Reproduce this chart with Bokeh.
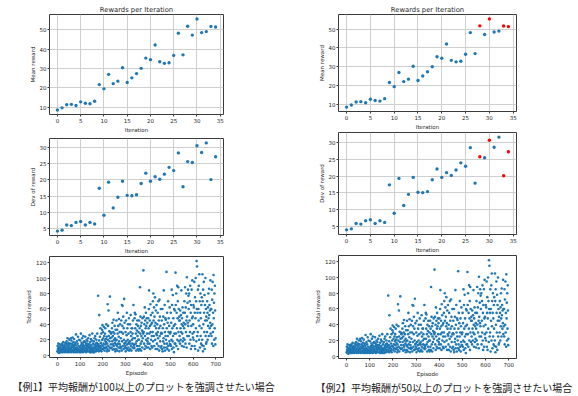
import numpy as np
from bokeh.plotting import figure
from bokeh.layouts import row, column
from bokeh.models import Range1d, FixedTicker, Title
from bokeh.embed import file_html
from bokeh.resources import INLINE

# ---------------- data ----------------
iterations = list(range(35))
mean_reward = [8.5, 9.6, 11.2, 11.4, 10.8, 12.7, 12.0, 11.7, 13.0, 21.6,
               19.4, 26.9, 22.1, 23.4, 30.3, 22.7, 25.1, 27.3, 30.0, 35.3,
               34.5, 42.1, 33.4, 32.6, 32.9, 36.7, 48.2, 37.0, 51.8, 47.2,
               55.5, 48.5, 49.0, 51.7, 51.4]
dev_reward = [4.1, 4.4, 6.0, 5.8, 6.8, 7.1, 6.0, 6.8, 6.3, 17.4,
              9.0, 19.3, 11.3, 14.6, 19.6, 15.2, 15.1, 15.4, 18.9, 22.1,
              19.6, 21.0, 20.2, 21.8, 23.9, 22.9, 28.4, 17.9, 25.7, 25.4,
              30.6, 28.5, 31.5, 20.1, 27.2]

# total reward of every episode (20 episodes per iteration)
total_reward_rows = [
    [5, 12, 8, 4, 15, 9, 6, 10, 3, 7, 14, 8, 5, 11, 6, 9, 4, 13, 7, 14],
    [6, 15, 9, 4, 12, 8, 17, 5, 10, 7, 13, 9, 4, 11, 6, 16, 8, 12, 5, 15],
    [5, 18, 9, 4, 14, 22, 7, 11, 6, 16, 8, 4, 13, 20, 6, 10, 15, 5, 9, 22],
    [8, 4, 19, 12, 6, 15, 10, 23, 5, 13, 7, 17, 4, 11, 21, 9, 6, 14, 8, 16],
    [4, 13, 27, 7, 10, 5, 18, 9, 4, 15, 6, 24, 8, 12, 5, 20, 7, 11, 4, 7],
    [6, 19, 10, 4, 28, 13, 8, 16, 5, 22, 11, 7, 14, 4, 25, 9, 17, 6, 12, 18],
    [9, 5, 17, 24, 7, 13, 4, 15, 10, 20, 6, 12, 8, 18, 5, 14, 22, 9, 11, 11],
    [5, 14, 26, 8, 4, 17, 11, 6, 21, 9, 13, 4, 19, 7, 28, 10, 5, 15, 8, 4],
    [7, 18, 10, 4, 22, 13, 9, 25, 6, 15, 11, 5, 20, 8, 16, 12, 28, 6, 14, 11],
    [77, 8, 14, 5, 19, 52, 10, 6, 24, 12, 35, 7, 16, 9, 28, 5, 13, 20, 33, 39],
    [12, 30, 8, 22, 15, 37, 10, 25, 6, 19, 28, 14, 35, 9, 21, 17, 40, 11, 24, 5],
    [15, 8, 66, 20, 38, 12, 58, 25, 6, 31, 18, 10, 76, 22, 30, 9, 14, 28, 29, 23],
    [10, 35, 18, 42, 7, 25, 14, 30, 46, 12, 20, 8, 28, 38, 16, 22, 5, 33, 19, 14],
    [8, 45, 20, 12, 33, 6, 28, 55, 15, 38, 10, 24, 47, 18, 5, 30, 14, 40, 9, 11],
    [22, 10, 45, 30, 6, 65, 18, 38, 64, 12, 28, 50, 8, 35, 20, 73, 15, 42, 9, 16],
    [12, 30, 5, 45, 18, 9, 26, 55, 14, 35, 7, 20, 40, 10, 28, 16, 48, 6, 15, 15],
    [18, 40, 8, 30, 52, 12, 25, 6, 35, 20, 35, 15, 28, 10, 45, 22, 65, 14, 9, 13],
    [10, 48, 55, 22, 35, 53, 15, 28, 6, 40, 18, 32, 12, 45, 25, 8, 38, 20, 30, 6],
    [20, 45, 12, 35, 8, 88, 28, 50, 15, 38, 6, 25, 42, 18, 32, 10, 48, 22, 30, 28],
    [110, 30, 50, 15, 40, 8, 62, 25, 45, 12, 35, 55, 20, 38, 10, 48, 28, 42, 18, 15],
    [22, 48, 10, 35, 60, 84, 28, 15, 45, 38, 8, 66, 30, 52, 20, 40, 12, 25, 42, 10],
    [55, 30, 70, 18, 80, 45, 25, 62, 12, 50, 38, 75, 20, 42, 8, 58, 35, 28, 65, 26],
    [15, 40, 8, 55, 30, 22, 70, 12, 45, 35, 6, 72, 25, 50, 18, 38, 10, 60, 28, 29],
    [12, 45, 28, 8, 60, 5, 35, 18, 50, 22, 84, 10, 40, 15, 65, 30, 6, 48, 25, 46],
    [20, 10, 108, 35, 15, 55, 8, 42, 25, 70, 12, 30, 48, 6, 38, 18, 62, 14, 28, 14],
    [30, 55, 12, 42, 20, 85, 8, 65, 35, 18, 78, 25, 48, 10, 38, 4, 60, 28, 15, 58],
    [40, 15, 107, 65, 28, 80, 12, 55, 35, 90, 20, 48, 70, 8, 88, 30, 60, 18, 45, 50],
    [25, 45, 15, 58, 35, 20, 52, 30, 84, 40, 12, 48, 28, 62, 18, 38, 55, 22, 42, 11],
    [35, 70, 20, 55, 88, 40, 15, 62, 30, 80, 45, 10, 101, 50, 25, 68, 42, 85, 38, 77],
    [60, 25, 80, 15, 45, 70, 30, 90, 20, 55, 8, 65, 38, 85, 12, 48, 97, 28, 50, 23],
    [40, 65, 20, 62, 30, 95, 12, 55, 75, 8, 48, 100, 35, 70, 18, 122, 60, 115, 25, 55],
    [30, 85, 6, 60, 45, 90, 20, 105, 38, 70, 10, 55, 80, 25, 48, 15, 65, 35, 75, 13],
    [20, 105, 70, 5, 85, 40, 12, 95, 55, 30, 78, 8, 65, 45, 100, 25, 60, 15, 50, 17],
    [45, 30, 70, 55, 20, 62, 38, 80, 48, 25, 86, 52, 65, 35, 58, 42, 97, 28, 60, 38],
    [60, 25, 85, 15, 72, 40, 95, 30, 55, 12, 104, 48, 68, 20, 80, 35, 90, 58, 14, 22],
]
total_reward = [v for r in total_reward_rows for v in r]
episodes = list(range(len(total_reward)))

iter_ticks = [0, 5, 10, 15, 20, 25, 30, 35]
mean_ticks = [10, 20, 30, 40, 50]
dev_ticks = [5, 10, 15, 20, 25, 30]
episode_ticks = [0, 100, 200, 300, 400, 500, 600, 700]
total_ticks = [0, 20, 40, 60, 80, 100, 120]

title_text = "Rewards per Iteration"
captions = ["【例1】平均報酬が100以上のプロットを強調させたい場合",
            "【例2】平均報酬が50以上のプロットを強調させたい場合"]
thresholds = [100, 50]

BLUE = "#1f77b4"
RED = "#ff0000"
FONT = "DejaVu Sans"
CJK = "Noto Sans CJK JP"
TXT = "#262626"


def padded(vals, frac=0.05):
    lo, hi = min(vals), max(vals)
    span = hi - lo
    return Range1d(lo - frac * span, hi + frac * span)


def make_fig(xr, yr, fw, fh, bl, br, bt, bb):
    p = figure(frame_width=fw, frame_height=fh, x_range=xr, y_range=yr,
               min_border_left=bl, min_border_right=br,
               min_border_top=bt, min_border_bottom=bb,
               output_backend="svg", toolbar_location=None)
    p.background_fill_color = "white"
    p.border_fill_color = "white"
    p.outline_line_color = "#3a3a3a"
    p.outline_line_width = 1
    return p


def style(p, xticks, yticks, xlabel, ylabel, grid=True):
    p.xaxis.ticker = FixedTicker(ticks=xticks)
    p.yaxis.ticker = FixedTicker(ticks=yticks)
    p.xaxis.axis_label = xlabel
    p.yaxis.axis_label = ylabel
    for ax in (p.xaxis, p.yaxis):
        ax.axis_line_color = None
        ax.major_tick_line_color = "#3a3a3a"
        ax.major_tick_in = 0
        ax.major_tick_out = 2
        ax.minor_tick_line_color = None
        ax.major_label_text_font = FONT
        ax.major_label_text_font_size = "5.5px"
        ax.major_label_text_color = TXT
        ax.major_label_standoff = 1
        ax.axis_label_text_font = FONT
        ax.axis_label_text_font_size = "5.5px"
        ax.axis_label_text_font_style = "normal"
        ax.axis_label_text_color = TXT
        ax.axis_label_standoff = 1
    if grid:
        p.xgrid.ticker = FixedTicker(ticks=xticks)
        p.ygrid.ticker = FixedTicker(ticks=yticks)
        for g in (p.xgrid, p.ygrid):
            g.grid_line_color = "#cfcfcf"
            g.grid_line_width = 1
    else:
        p.xgrid.grid_line_color = None
        p.ygrid.grid_line_color = None


def build_column(threshold, caption, geo):
    (fw, bl, br, h1, h2, h3, g1, g2, cap_dx) = geo
    colors = [RED if m >= threshold else BLUE for m in mean_reward]

    p1 = make_fig(padded(iterations), padded(mean_reward), fw, h1, bl, br, 14, g1)
    style(p1, iter_ticks, mean_ticks, "Iteration", "Mean reward")
    p1.title.text = title_text
    p1.title.align = "center"
    p1.title.text_font = FONT
    p1.title.text_font_size = "6.8px"
    p1.title.text_font_style = "normal"
    p1.title.text_color = TXT
    p1.title.standoff = 1
    p1.scatter(iterations, mean_reward, size=3.4, color=colors, line_color=None)

    p2 = make_fig(padded(iterations), padded(dev_reward), fw, h2, bl, br, 0, g2)
    style(p2, iter_ticks, dev_ticks, "Iteration", "Dev of reward")
    p2.scatter(iterations, dev_reward, size=3.4, color=colors, line_color=None)

    p3 = make_fig(padded(episodes), padded(total_reward), fw, h3, bl, br, 0, 0)
    style(p3, episode_ticks, total_ticks, "Episode", "Total reward", grid=False)
    p3.scatter(episodes, total_reward, size=2.6, color=BLUE, line_color=None)
    p3.add_layout(Title(text=caption, align="left", offset=cap_dx, standoff=0,
                        vertical_align="top",
                        text_font=CJK, text_font_size="10px",
                        text_font_style="normal", text_color="#1a1a1a"), "below")
    return column(p1, p2, p3)


left = build_column(thresholds[0], captions[0], (174, 49, 67, 100, 97, 101, 24, 20, -37))
right = build_column(thresholds[1], captions[1], (178, 48, 58, 97, 102, 103, 21, 20, -23))
layout = row(left, right)

open("out.html", "w").write(file_html(layout, INLINE))
